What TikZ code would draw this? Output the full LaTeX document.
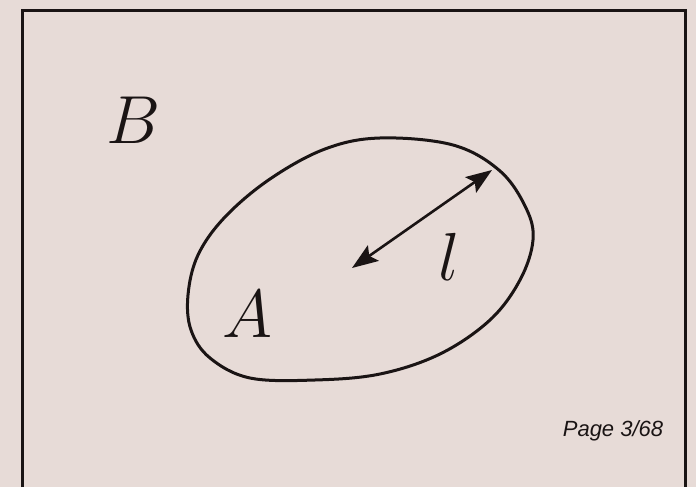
\RequirePackage{fix-cm}
\documentclass[tikz,border=0pt]{standalone}
\usepackage{fontspec}
\usepackage{tikz}
\usetikzlibrary{arrows.meta}
\newfontfamily\pagefont{Liberation Sans}
\definecolor{paper} {HTML}{E7DBD7}
\definecolor{ink}   {HTML}{1A1414}

\tikzset{
  setlabel/.style={text=ink, font=\fontsize{68}{68}\selectfont},
  border/.style={draw=ink, line width=3pt},
  region/.style={draw=ink, line width=3pt},
  reach/.style={draw=ink, line width=2.6pt,
    {Stealth[length=26pt, width=19pt, inset=5pt]}-{Stealth[length=26pt, width=19pt, inset=5pt]}}
}

\begin{document}
\begin{tikzpicture}[x=1pt, y=-1pt]
    \fill[paper] (0, 0) rectangle (696, 487);

    % --- the frame, open at the bottom --------------------------------------
    \draw[border] (22, 487) -- (22, 11) -- (685, 11) -- (685, 487);

    % --- the set A inside B ---------------------------------------------------
    \draw[region] plot[smooth cycle, tension=0.6] coordinates {
      (380,138) (453,145) (500,171) (526,208) (533,240) (520,280)
      (490,320) (440,354) (380,374) (315,380) (250,378) (210,358)
      (191,330) (188,295) (198,255) (225,217) (270,179) (325,149)};

    \coordinate (centre) at (352, 268);
    \coordinate (rim)    at (492, 170);
    \draw[reach] (centre) -- (rim);

    \node[setlabel] (labelB) at (134, 120) {$B$};
    \node[setlabel] (labelA) at (247, 314) {$A$};
    \node[setlabel] (labell) at (449, 257) {$l$};

    \node[text=ink, font=\pagefont\itshape\fontsize{22}{22}\selectfont]
      (page) at (613, 431) {Page 3/68};
    \useasboundingbox (0, 0) rectangle (696, 487);
  \end{tikzpicture}
\end{document}
